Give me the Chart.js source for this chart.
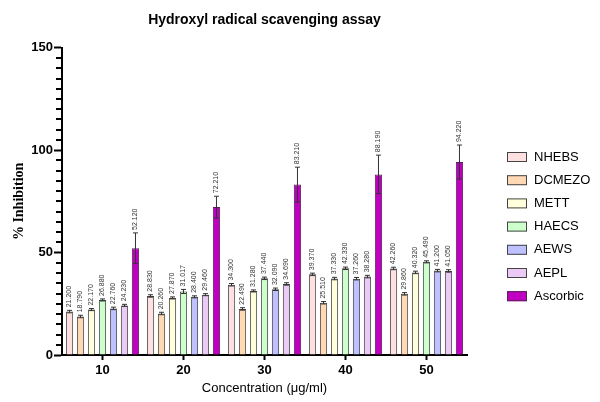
<!DOCTYPE html>
<html>
<head>
<meta charset="utf-8">
<script src="https://cdn.jsdelivr.net/npm/chart.js@4"></script>
<style>
  html,body{margin:0;padding:0;background:#fff}
  canvas{display:block}
</style>
</head>
<body>
<canvas id="myChart" width="600" height="402"></canvas>
<script>
// concentrations (ug/ml)
const concentrations = ['10', '20', '30', '40', '50'];

// % inhibition per extract
const nhebs    = [21.200, 28.830, 34.300, 39.370, 42.260];
const dcmezo   = [18.790, 20.260, 22.490, 25.510, 29.860];
const mett     = [22.170, 27.870, 31.280, 37.330, 40.320];
const haecs    = [26.880, 31.017, 37.440, 42.330, 45.490];
const aews     = [22.760, 28.400, 32.090, 37.260, 41.200];
const aepl     = [24.230, 29.460, 34.690, 38.280, 41.050];
const ascorbic = [52.120, 72.210, 83.210, 88.190, 94.220];

// error bars (+/-)
const nhebsErr    = [0.6, 0.6, 0.6, 0.6, 0.6];
const dcmezoErr   = [0.6, 0.6, 0.6, 0.6, 0.6];
const mettErr     = [0.5, 0.5, 0.5, 0.6, 0.6];
const haecsErr    = [0.5, 1.0, 0.6, 0.6, 0.5];
const aewsErr     = [0.6, 0.5, 0.6, 0.6, 0.6];
const aeplErr     = [0.5, 0.5, 0.6, 0.6, 0.6];
const ascorbicErr = [7.5, 5.3, 8.5, 9.4, 8.3];

const yMajorStep = 50;
const yMinorStep = 5;

const font = 'Arial, "Liberation Sans", sans-serif';

const data = {
  labels: concentrations,
  datasets: [
    {label: 'NHEBS', data: nhebs, errors: nhebsErr, backgroundColor: '#ffe0e0', borderColor: '#444'},
    {label: 'DCMEZO', data: dcmezo, errors: dcmezoErr, backgroundColor: '#ffd8b4', borderColor: '#444'},
    {label: 'METT', data: mett, errors: mettErr, backgroundColor: '#ffffdc', borderColor: '#444'},
    {label: 'HAECS', data: haecs, errors: haecsErr, backgroundColor: '#ccffcc', borderColor: '#444'},
    {label: 'AEWS', data: aews, errors: aewsErr, backgroundColor: '#bfc0ff', borderColor: '#444'},
    {label: 'AEPL', data: aepl, errors: aeplErr, backgroundColor: '#ebcbf5', borderColor: '#444'},
    {label: 'Ascorbic', data: ascorbic, errors: ascorbicErr, backgroundColor: '#c000c0', borderColor: '#5a205a'}
  ]
};
data.datasets.forEach(ds => {
  ds.borderWidth = 1;
  ds.categoryPercentage = 0.95;
  ds.barPercentage = 0.66;
});

// error bars + vertical value labels
const errorBars = {
  id: 'errorBars',
  afterDatasetsDraw(chart) {
    const ctx = chart.ctx;
    const y = chart.scales.y;
    chart.data.datasets.forEach((ds, i) => {
      const meta = chart.getDatasetMeta(i);
      meta.data.forEach((bar, j) => {
        const v = ds.data[j], e = ds.errors[j];
        const top = y.getPixelForValue(v + e);
        const bot = y.getPixelForValue(v - e);
        ctx.save();
        ctx.strokeStyle = '#333';
        ctx.lineWidth = 1;
        ctx.beginPath();
        ctx.moveTo(bar.x, top); ctx.lineTo(bar.x, bot);
        ctx.moveTo(bar.x - 2.5, top); ctx.lineTo(bar.x + 2.5, top);
        ctx.moveTo(bar.x - 2.5, bot); ctx.lineTo(bar.x + 2.5, bot);
        ctx.stroke();
        ctx.translate(bar.x, top - 3);
        ctx.rotate(-Math.PI / 2);
        ctx.font = '7px ' + font;
        ctx.fillStyle = '#333';
        ctx.textAlign = 'left';
        ctx.textBaseline = 'middle';
        ctx.fillText(v.toFixed(3), 0, 0);
        ctx.restore();
      });
    });
  }
};

// minor ticks on the y axis
const minorTicks = {
  id: 'minorTicks',
  afterDraw(chart) {
    const ctx = chart.ctx;
    const y = chart.scales.y;
    const x0 = chart.chartArea.left;
    ctx.save();
    ctx.fillStyle = '#000';
    for (let v = 0; v <= 150; v += yMinorStep) {
      if (v % yMajorStep === 0) continue;
      const py = Math.round(y.getPixelForValue(v));
      ctx.fillRect(x0 - 6, py - 1, 6, 2);
    }
    ctx.restore();
  }
};

// legend on the right
const sideLegend = {
  id: 'sideLegend',
  afterDraw(chart) {
    const ctx = chart.ctx;
    ctx.save();
    chart.data.datasets.forEach((ds, i) => {
      const yy = 157 + i * 23.2;
      ctx.fillStyle = ds.backgroundColor;
      ctx.fillRect(507, yy - 5, 20, 10);
      ctx.strokeStyle = ds.borderColor;
      ctx.lineWidth = 1;
      ctx.strokeRect(507.5, yy - 4.5, 19, 9);
      ctx.fillStyle = '#000';
      ctx.font = '13px ' + font;
      ctx.textAlign = 'left';
      ctx.textBaseline = 'middle';
      ctx.fillText(ds.label, 534, yy);
    });
    ctx.restore();
  }
};

const config = {
  type: 'bar',
  data,
  options: {
    responsive: false,
    animation: false,
    layout: {padding: {left: 0, right: 133, top: 0, bottom: 0}},
    plugins: {
      legend: {display: false},
      tooltip: {enabled: false},
      title: {
        display: true,
        text: 'Hydroxyl radical scavenging assay',
        color: '#000',
        fullSize: false,
        font: {family: font, size: 14, weight: 'bold'},
        padding: {top: 12, bottom: 19}
      }
    },
    scales: {
      x: {
        grid: {display: true, drawOnChartArea: false, offset: false, tickLength: 5, tickWidth: 2, color: '#000'},
        border: {color: '#000', width: 2},
        ticks: {color: '#000', font: {family: font, size: 13, weight: 'bold'}, padding: 3},
        title: {
          display: true,
          text: 'Concentration (\u03bcg/ml)',
          color: '#000',
          font: {family: font, size: 13},
          padding: {top: 2, bottom: 6}
        },
        afterFit: s => { s.height = 47; }
      },
      y: {
        min: 0,
        max: 150,
        grid: {display: true, drawOnChartArea: false, tickLength: 8, tickWidth: 2, color: '#000'},
        border: {color: '#000', width: 2},
        ticks: {
          stepSize: yMajorStep,
          color: '#000',
          padding: 1,
          font: {family: font, size: 13, weight: 'bold'}
        },
        title: {
          display: true,
          text: '% Inhibition',
          color: '#000',
          font: {family: '"Liberation Serif", "Times New Roman", serif', size: 14, weight: 'bold'},
          padding: {top: 11}
        },
        afterFit: s => { s.width = 62; }
      }
    }
  },
  plugins: [errorBars, minorTicks, sideLegend]
};

const myChart = new Chart(document.getElementById('myChart'), config);
</script>
</body>
</html>
